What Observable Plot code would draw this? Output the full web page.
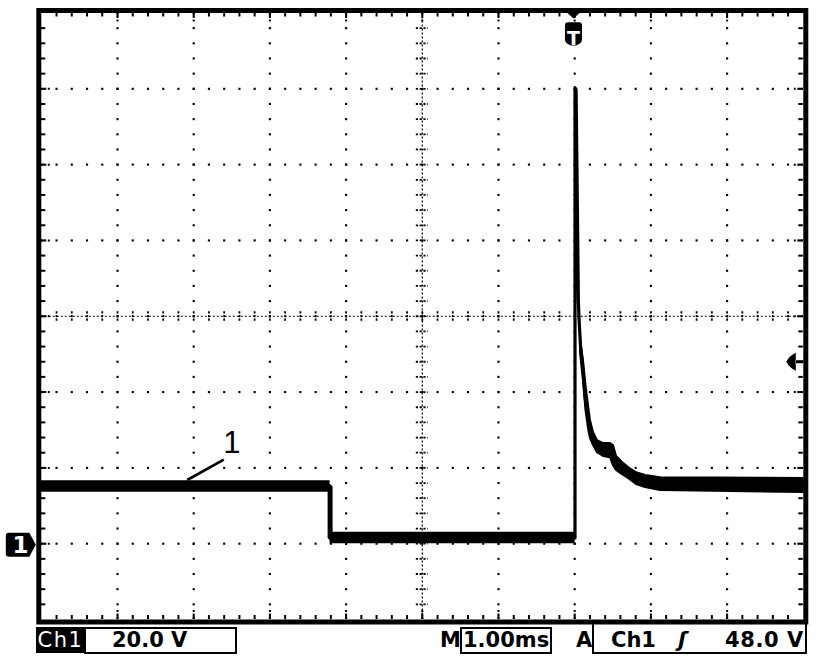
<!DOCTYPE html>
<html><head><meta charset="utf-8">
<script src="https://cdn.jsdelivr.net/npm/d3@7"></script>
<script src="https://cdn.jsdelivr.net/npm/@observablehq/plot@0.6"></script>
<style>
html,body{margin:0;padding:0;background:#fff;}
#wrap{position:relative;width:832px;height:662px;overflow:hidden;background:#fff;font-family:"DejaVu Sans",sans-serif;}
#plot{position:absolute;left:0;top:0;}
.st{position:absolute;top:627px;height:26px;line-height:26px;font-size:21px;font-weight:bold;color:#000;white-space:pre;}
.box{position:absolute;box-sizing:border-box;border:2px solid #000;}
</style></head><body>
<div id="wrap">
  <div id="plot"></div>
  <div class="box" style="left:36px;top:627px;width:49px;height:26px;background:#000;border:none"></div>
  <div class="st" id="chName" style="left:36px;width:49px;text-align:center;color:#fff;font-weight:normal;letter-spacing:1.5px"></div>
  <div class="box" style="left:84px;top:627px;width:153px;height:27px;"></div>
  <div class="st" id="vdiv" style="left:112px"></div>
  <div class="st" id="mLab" style="left:440px"></div>
  <div class="box" style="left:460px;top:627px;width:92px;height:27px;"></div>
  <div class="st" id="tdiv" style="left:463px"></div>
  <div class="st" id="aLab" style="left:576px"></div>
  <div class="box" style="left:592px;top:622px;width:215px;height:32px;border-top:none"></div>
  <div class="st" id="trigCh" style="left:611px"></div>
  <div class="st" id="trigSlope" style="left:678px;font-style:italic"></div>
  <div class="st" id="trigLev" style="left:725px;letter-spacing:0.6px"></div>
</div>
<script>
// ---- status bar texts ----
const channelName = "Ch1";
const voltsPerDiv = "20.0 V";
const timebaseLabel = "M";
const timePerDiv = "1.00ms";
const triggerModeLabel = "A";
const triggerSource = "Ch1";
const triggerSlope = "ʃ";
const triggerLevelText = "48.0 V";

// ---- axes (divisions): time in ms, voltage in V ----
const xDivisions = [0, 1, 2, 3, 4, 5, 6, 7, 8, 9, 10];
const yDivisions = [-20, 0, 20, 40, 60, 80, 100, 120, 140];

// ---- trace centre line ----
const traceT = [0, 3.79, 3.79, 7.004, 7.004, 7.018, 7.035, 7.048, 7.058, 7.076, 7.109, 7.142, 7.188, 7.234, 7.299, 7.378, 7.470, 7.522, 7.601, 7.706, 7.837, 7.995, 8.192, 10];
const traceV = [15.1, 15.1, 1.5, 1.5, 120.3, 119.8, 89.2, 64.1, 58.9, 52.3, 45.7, 37.8, 31.2, 28.0, 25.6, 24.8, 24.8, 21.9, 20.1, 18.2, 16.9, 15.8, 15.1, 15.1];

// ---- noise envelope of the trace ----
const bandSeg = ["high","high","low","low","tail","tail","tail","tail","tail","tail","tail","tail","tail","tail","tail","tail","tail","tail","tail","tail","tail"];
const bandT  = [0, 3.79, 3.79, 7.004, 7.076, 7.115, 7.148, 7.181, 7.207, 7.247, 7.299, 7.378, 7.470, 7.509, 7.549, 7.627, 7.706, 7.811, 7.929, 8.126, 10];
const bandLo = [13.6, 13.6, 0.0, 0.0, 50.4, 43.0, 35.1, 30.4, 27.7, 25.9, 24.0, 23.0, 22.7, 20.6, 19.3, 18.2, 17.2, 15.6, 14.8, 14.0, 13.5];
const bandHi = [16.6, 16.6, 3.0, 3.0, 53.6, 48.3, 41.7, 36.4, 32.5, 29.3, 27.2, 26.4, 26.4, 25.9, 23.0, 21.4, 20.1, 18.7, 18.0, 17.4, 17.2];

// ---- callout "1" ----
const leaderT = [1.915, 2.395];
const leaderV = [16.8, 22.2];
const calloutLabel = ["1"];
const calloutT = [2.50];
const calloutV = [23.8];

// ---- markers ----
const triggerT = [6.984];
const triggerLevelV = [48];
const groundV = [0];
const groundLabel = ["1"];
const triggerLabel = ["T"];

// fill status bar
document.getElementById("chName").textContent = channelName;
document.getElementById("vdiv").textContent = voltsPerDiv;
document.getElementById("mLab").textContent = timebaseLabel;
document.getElementById("tdiv").textContent = timePerDiv;
document.getElementById("aLab").textContent = triggerModeLabel;
document.getElementById("trigCh").textContent = triggerSource;
document.getElementById("trigSlope").textContent = triggerSlope;
document.getElementById("trigLev").textContent = triggerLevelText;

// ---- derived ----
const W = 832, H = 626, mL = 40.8, mR = 29.2, mT = 12.5, mB = 7;
const plotW = W - mL - mR, plotH = H - mT - mB;
const tMin = xDivisions[0], tMax = xDivisions[xDivisions.length - 1];
const vMin = yDivisions[0], vMax = yDivisions[yDivisions.length - 1];
const tCenter = (tMin + tMax) / 2, vCenter = (vMin + vMax) / 2;
const tStep = (xDivisions[1] - xDivisions[0]) / 5, vStep = (yDivisions[1] - yDivisions[0]) / 5;
const nT = Math.round((tMax - tMin) / tStep), nV = Math.round((vMax - vMin) / vStep);
const minorT = d3.range(1, nT).map(i => +(tMin + i * tStep).toFixed(4));
const minorV = d3.range(1, nV).map(i => +(vMin + i * vStep).toFixed(4));
const innerT = xDivisions.slice(1, -1).filter(t => t !== tCenter);
const innerV = yDivisions.slice(1, -1).filter(v => v !== vCenter);
const gridDots = [
  ...innerT.flatMap(t => minorV.map(v => ({t, v}))),
  ...innerV.flatMap(v => minorT.map(t => ({t, v})))
];
const pxT = (tMax - tMin) / plotW, pxV = (vMax - vMin) / plotH;

const traceRows = traceT.map((t, i) => ({t, v: traceV[i]}));
const bandRows = bandT.map((t, i) => ({t, lo: bandLo[i], hi: bandHi[i], seg: bandSeg[i]}));
const leaderRows = [{t1: leaderT[0], v1: leaderV[0], t2: leaderT[1], v2: leaderV[1]}];
const calloutRows = calloutLabel.map((s, i) => ({s, t: calloutT[i], v: calloutV[i]}));

// custom marker shapes
const triggerSymbol = {draw(ctx) {
  ctx.moveTo(-6, 0); ctx.lineTo(6, 0); ctx.lineTo(0, 5.5); ctx.closePath();
  ctx.moveTo(-8.5, 12.5);
  ctx.quadraticCurveTo(-8.5, 9.2, -5.5, 9.2);
  ctx.lineTo(5.5, 9.2);
  ctx.quadraticCurveTo(8.5, 9.2, 8.5, 12.5);
  ctx.lineTo(8.5, 27);
  ctx.quadraticCurveTo(8.5, 30, 2.5, 32.5);
  ctx.lineTo(-2.5, 32.5);
  ctx.quadraticCurveTo(-8.5, 30, -8.5, 27);
  ctx.closePath();
}};
const groundSymbol = {draw(ctx) {
  ctx.moveTo(-32.5, -11);
  ctx.lineTo(-12, -11);
  ctx.lineTo(-5.5, 1);
  ctx.lineTo(-12, 13);
  ctx.lineTo(-32.5, 13);
  ctx.quadraticCurveTo(-35.5, 13, -35.5, 10);
  ctx.lineTo(-35.5, -8);
  ctx.quadraticCurveTo(-35.5, -11, -32.5, -11);
  ctx.closePath();
}};
const levelSymbol = {draw(ctx) {
  ctx.moveTo(-7.5, -9);
  ctx.quadraticCurveTo(-14, -6, -17, 0);
  ctx.quadraticCurveTo(-14, 6, -7.5, 9);
  ctx.closePath();
  ctx.moveTo(-8, -1.5); ctx.lineTo(0, -1.5); ctx.lineTo(0, 1.5); ctx.lineTo(-8, 1.5); ctx.closePath();
}};

const chart = Plot.plot({
  width: W, height: H,
  marginLeft: mL, marginRight: mR, marginTop: mT, marginBottom: mB,
  x: {domain: [tMin, tMax], axis: null},
  y: {domain: [vMin, vMax], axis: null},
  style: {background: "white", fontFamily: "DejaVu Sans, sans-serif"},
  marks: [
    // dotted graticule
    Plot.dot(gridDots, {x: "t", y: "v", symbol: "square", r: 1.2, fill: "black", stroke: "none"}),
    // centre lines
    Plot.ruleY([vCenter], {stroke: "black", strokeWidth: 1.2, strokeDasharray: "2,2"}),
    Plot.ruleX([tCenter], {stroke: "black", strokeWidth: 1.2, strokeDasharray: "2,2"}),
    Plot.ruleX(minorT, {x: d => d, y1: () => vCenter - 5 * pxV, y2: () => vCenter + 5 * pxV, stroke: "black", strokeWidth: 1.8, strokeDasharray: "2.2,1.4"}),
    Plot.ruleY(minorV, {y: d => d, x1: () => tCenter - 6 * pxT, x2: () => tCenter + 6 * pxT, stroke: "black", strokeWidth: 1.8, strokeDasharray: "2.2,1.6"}),
    // edge ticks
    Plot.ruleX(minorT, {x: d => d, insetBottom: plotH - 4, stroke: "black", strokeWidth: 2}),
    Plot.ruleX(minorT, {x: d => d, insetTop: plotH - 4, stroke: "black", strokeWidth: 2}),
    Plot.ruleY(minorV, {y: d => d, insetRight: plotW - 4.5, stroke: "black", strokeWidth: 2}),
    Plot.ruleY(minorV, {y: d => d, insetLeft: plotW - 4.5, stroke: "black", strokeWidth: 2}),
    Plot.ruleX(xDivisions.slice(1, -1), {x: d => d, insetBottom: plotH - 9, stroke: "black", strokeWidth: 2, strokeDasharray: "2,1.5"}),
    Plot.ruleX(xDivisions.slice(1, -1), {x: d => d, insetTop: plotH - 9, stroke: "black", strokeWidth: 2, strokeDasharray: "2,1.5"}),
    Plot.ruleY(yDivisions.slice(1, -1), {y: d => d, insetRight: plotW - 9, stroke: "black", strokeWidth: 2, strokeDasharray: "2,1.5"}),
    Plot.ruleY(yDivisions.slice(1, -1), {y: d => d, insetLeft: plotW - 9, stroke: "black", strokeWidth: 2, strokeDasharray: "2,1.5"}),
    // trace
    Plot.areaY(bandRows, {filter: d => d.seg !== "tail", x: "t", y1: "lo", y2: "hi", z: "seg", fill: "black", curve: "linear"}),
    Plot.areaY(bandRows, {filter: d => d.seg === "tail", x: "t", y1: "lo", y2: "hi", z: "seg", fill: "black", stroke: "black", strokeWidth: 2, curve: "linear"}),
    Plot.line(traceRows.slice(0, 4), {x: "t", y: "v", stroke: "black", strokeWidth: 5, strokeLinecap: "butt", strokeLinejoin: "miter"}),
    Plot.line(traceRows.slice(3), {x: "t", y: "v", stroke: "black", strokeWidth: 3.2}),
    // callout
    Plot.link(leaderRows, {x1: "t1", y1: "v1", x2: "t2", y2: "v2", stroke: "black", strokeWidth: 2.6, strokeLinecap: "butt"}),
    Plot.text(calloutRows, {x: "t", y: "v", text: "s", fontSize: 31, fontFamily: "Liberation Sans, Arial, sans-serif", lineAnchor: "bottom", textAnchor: "middle", fill: "black"}),
    // frame
    Plot.frame({stroke: "black", strokeWidth: 5, inset: -2.5}),
    // markers
    Plot.dot(triggerT, {x: d => d, frameAnchor: "top", symbol: triggerSymbol, fill: "black", stroke: "none"}),
    Plot.text(triggerLabel, {x: () => triggerT[0], frameAnchor: "top", dy: 18.5, text: d => d, fill: "white", fontWeight: "bold", fontSize: 19}),
    Plot.dot(groundV, {y: d => d, frameAnchor: "left", symbol: groundSymbol, fill: "black", stroke: "none"}),
    Plot.text(groundLabel, {y: () => groundV[0], frameAnchor: "left", dx: -20.8, dy: 1.5, text: d => d, fill: "white", fontWeight: "bold", fontSize: 23, textAnchor: "middle"}),
    Plot.dot(triggerLevelV, {y: d => d, frameAnchor: "right", symbol: levelSymbol, fill: "black", stroke: "none"})
  ]
});
document.getElementById("plot").appendChild(chart);
</script>
</body></html>
